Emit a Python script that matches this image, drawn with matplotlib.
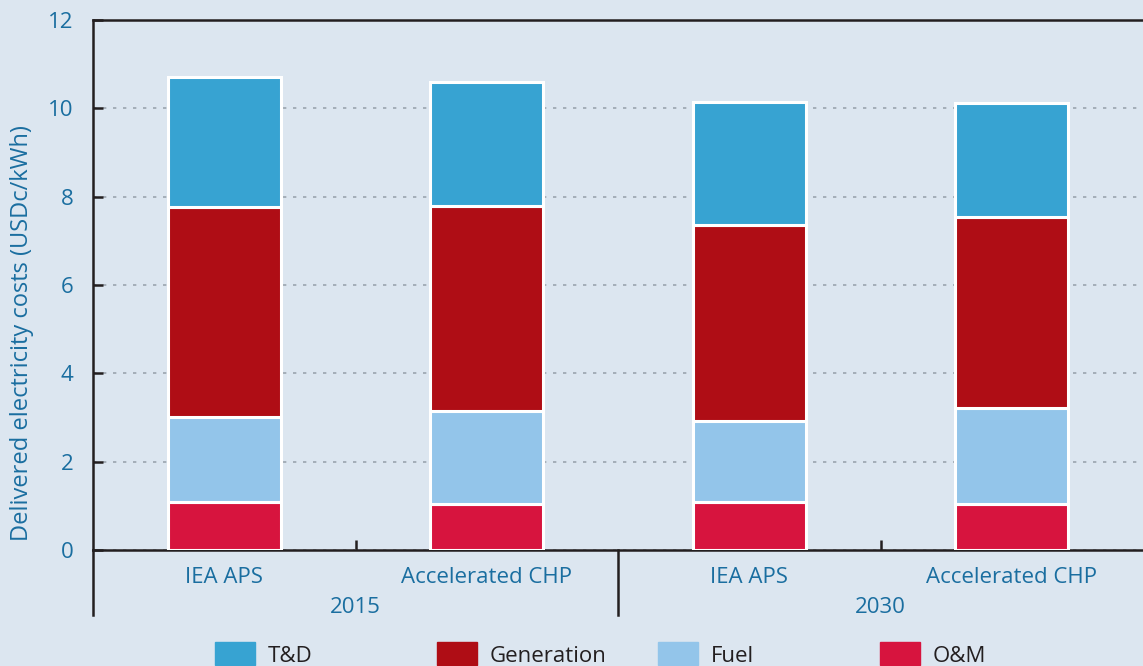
import numpy as np
import matplotlib.pyplot as plt
from matplotlib.patches import Rectangle

# ---------------------------- data ---------------------------- #
scenarios = ['IEA APS', 'Accelerated CHP', 'IEA APS', 'Accelerated CHP']
years = ['2015', '2030']
components = ['T&D', 'Generation', 'Fuel', 'O&M']

om = [1.08, 1.05, 1.08, 1.05]
fuel = [1.93, 2.10, 1.85, 2.17]
generation = [4.76, 4.64, 4.43, 4.33]
td = [2.94, 2.81, 2.78, 2.57]

colors = {'T&D': '#37a3d2', 'Generation': '#af0d15',
          'Fuel': '#93c5ea', 'O&M': '#d7143e'}
#----------------------------------------------------------------------#

bg = '#dce6f0'
blue = '#1a6ea0'
dark = '#231f20'
fs = 16

plt.rcParams['font.family'] = ['Open Sans', 'DejaVu Sans']
fig = plt.figure(figsize=(11.43, 6.66), dpi=100, facecolor=bg)
ax = fig.add_axes([0.0814, 0.1742, 0.9186, 0.7958], facecolor=bg)

x = np.arange(len(scenarios))
w = 0.43
bottom = np.zeros(len(x))
for name, vals in [('O&M', om), ('Fuel', fuel), ('Generation', generation), ('T&D', td)]:
    ax.bar(x, vals, w, bottom=bottom, color=colors[name], edgecolor='white',
           linewidth=2.2, zorder=3)
    bottom += np.array(vals)

ax.set_xlim(-0.5, 3.5)
ax.set_ylim(0, 12)
ax.set_yticks(range(0, 13, 2))
ax.yaxis.grid(True, linestyle=(0, (2, 4)), color='#9aa4ae', linewidth=1.2, zorder=0)
ax.tick_params(axis='y', direction='in', length=7, width=1.8, color=dark,
               labelsize=fs, labelcolor=blue, pad=14)
ax.set_xticks([0.5, 2.5])
ax.set_xticklabels([])
ax.tick_params(axis='x', direction='in', length=7, width=1.8, color=dark)

for s in ['left', 'bottom', 'top']:
    ax.spines[s].set_color(dark)
    ax.spines[s].set_linewidth(1.8)
ax.spines['right'].set_visible(False)

# extended left spine and group separator below the axis
ax.plot([0, 0], [0, -0.123], transform=ax.transAxes, color=dark, lw=1.8, clip_on=False)
ax.plot([1.5, 1.5], [0, -1.48], color=dark, lw=1.8, clip_on=False)

for xi, lab in zip(x, scenarios):
    ax.text(xi, -0.62, lab, ha='center', va='center', color=blue, fontsize=fs)
for i, yr in enumerate(years):
    ax.text(0.5 + 2 * i, -1.3, yr, ha='center', va='center', color=blue, fontsize=fs)

ax.set_ylabel('Delivered electricity costs (USDc/kWh)', color=blue, fontsize=17)
ax.yaxis.set_label_coords(-0.056, 0.41)

# legend
leg_x = [215, 437, 658, 880]
for px, name in zip(leg_x, components):
    fig.add_artist(Rectangle((px / 1143, 1 - 665 / 666), 40 / 1143, 23 / 666,
                             transform=fig.transFigure, color=colors[name]))
    fig.text((px + 53) / 1143, 1 - 657 / 666, name, ha='left', va='center',
             color=dark, fontsize=fs)

fig.savefig('out.png', dpi=100, facecolor=bg)
